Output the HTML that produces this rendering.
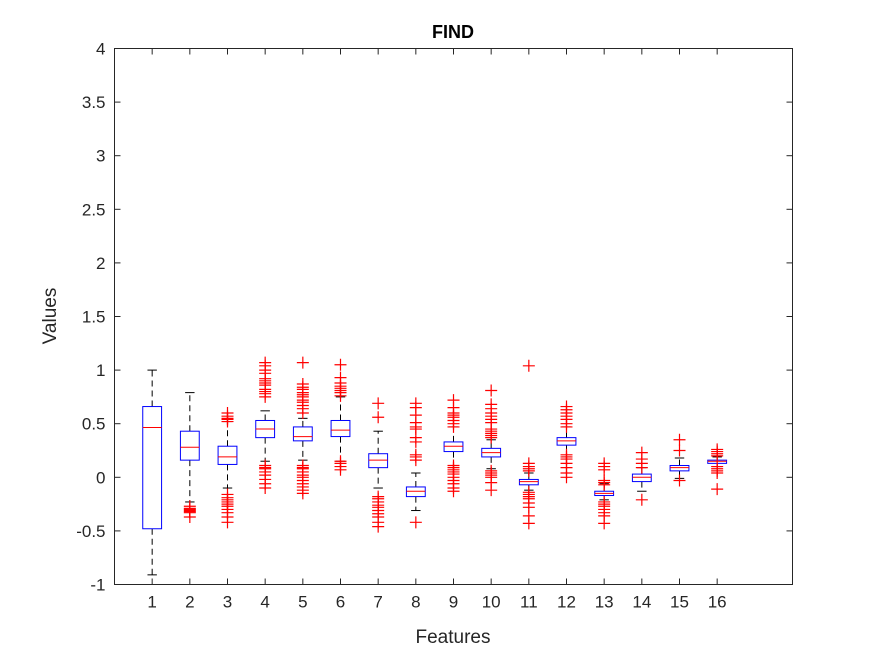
<!DOCTYPE html>
<html><head><meta charset="utf-8"><style>
body{margin:0;background:#fff;width:875px;height:656px;overflow:hidden}
svg text{font-family:"Liberation Sans",Arial,sans-serif;fill:#262626}
</style></head><body>
<svg id="chart" width="875" height="656" xmlns="http://www.w3.org/2000/svg">
<rect x="0" y="0" width="875" height="656" fill="#fff"/>
<text x="453" y="38" text-anchor="middle" font-size="18" font-weight="bold" style="fill:#000">FIND</text>
<text transform="translate(56,316) rotate(-90)" text-anchor="middle" font-size="19">Values</text>
<text x="453" y="643" text-anchor="middle" font-size="19">Features</text>
<g id="plot"></g>
</svg>
<script>
const categories=["1","2","3","4","5","6","7","8","9","10","11","12","13","14","15","16"];
const q1=[-0.48,0.16,0.12,0.37,0.34,0.38,0.09,-0.18,0.24,0.19,-0.07,0.30,-0.17,-0.04,0.06,0.13];
const medians=[0.465,0.28,0.19,0.45,0.38,0.44,0.16,-0.13,0.29,0.23,-0.04,0.34,-0.15,0.0,0.09,0.15];
const q3=[0.66,0.43,0.29,0.53,0.47,0.53,0.22,-0.09,0.33,0.27,-0.02,0.37,-0.13,0.03,0.11,0.16];
const whiskerHigh=[1.0,0.79,0.52,0.62,0.55,0.75,0.43,0.04,0.47,0.35,0.04,0.47,-0.06,0.09,0.18,0.19];
const whiskerLow=[-0.91,-0.23,-0.10,0.15,0.16,0.15,-0.10,-0.31,0.11,0.08,-0.12,0.19,-0.21,-0.13,-0.01,0.10];
const outliers=[
 [],
 [-0.27,-0.29,-0.30,-0.31,-0.32,-0.33,-0.37],
 [0.52,0.54,0.55,0.57,0.60,-0.16,-0.19,-0.21,-0.23,-0.25,-0.27,-0.30,-0.33,-0.37,-0.42],
 [1.07,1.04,1.00,0.97,0.92,0.90,0.88,0.86,0.82,0.80,0.78,0.75,0.11,0.09,0.08,0.05,0.02,-0.02,-0.06,-0.10],
 [1.07,0.87,0.84,0.82,0.79,0.77,0.75,0.72,0.70,0.67,0.64,0.60,0.11,0.09,0.08,0.05,0.02,0.00,-0.03,-0.06,-0.09,-0.12,-0.15],
 [1.05,0.93,0.88,0.85,0.83,0.81,0.79,0.76,0.15,0.13,0.10,0.07],
 [0.69,0.56,-0.18,-0.20,-0.23,-0.26,-0.28,-0.31,-0.34,-0.37,-0.42,-0.46],
 [0.69,0.65,0.58,0.51,0.47,0.45,0.37,0.33,0.21,0.19,0.16,-0.42],
 [0.72,0.65,0.60,0.58,0.56,0.53,0.50,0.47,0.11,0.09,0.07,0.05,0.03,0.00,-0.03,-0.06,-0.10,-0.13],
 [0.81,0.68,0.64,0.60,0.57,0.54,0.51,0.45,0.43,0.41,0.39,0.37,0.06,0.04,0.02,0.00,-0.05,-0.12],
 [1.04,0.13,0.10,0.08,0.06,-0.14,-0.16,-0.18,-0.20,-0.24,-0.28,-0.36,-0.43],
 [0.66,0.63,0.60,0.57,0.54,0.50,0.47,0.21,0.19,0.17,0.13,0.09,0.04,0.00],
 [0.13,0.10,0.07,-0.03,-0.05,-0.07,-0.23,-0.25,-0.27,-0.30,-0.33,-0.36,-0.43],
 [0.23,0.17,0.13,0.09,-0.21],
 [0.35,0.25,-0.03],
 [0.26,0.24,0.22,0.20,0.10,0.08,0.06,0.04,-0.11]
];
const yTicks=[-1,-0.5,0,0.5,1,1.5,2,2.5,3,3.5,4];
const yTickLabels=["-1","-0.5","0","0.5","1","1.5","2","2.5","3","3.5","4"];

const L=114.5,R=792.5,T=48.5,B=584.5;
const xMin=0,xMax=18,yMin=-1,yMax=4;
const xs=v=>L+(v-xMin)/(xMax-xMin)*(R-L);
const ys=v=>B-(v-yMin)/(yMax-yMin)*(B-T);
const NS="http://www.w3.org/2000/svg";
const g=document.getElementById('plot');
function mk(tag,attrs,parent){const e=document.createElementNS(NS,tag);for(const k in attrs)e.setAttribute(k,attrs[k]);(parent||g).appendChild(e);return e;}

const axes=mk('rect',{x:L,y:T,width:R-L,height:B-T,fill:'#fff',stroke:'#262626','stroke-width':1});



yTicks.forEach((v,i)=>{
 const y=ys(v);
 mk('line',{x1:L,x2:L+6,y1:y,y2:y,stroke:'#262626'});
 mk('line',{x1:R,x2:R-6,y1:y,y2:y,stroke:'#262626'});
 const t=mk('text',{x:L-9,y:y+6,'text-anchor':'end','font-size':17});
 t.textContent=yTickLabels[i];
 
 
});
categories.forEach((c,i)=>{
 const x=xs(i+1);
 mk('line',{x1:x,x2:x,y1:B,y2:B-6,stroke:'#262626'});
 mk('line',{x1:x,x2:x,y1:T,y2:T+6,stroke:'#262626'});
 const t=mk('text',{x:x,y:B+23,'text-anchor':'middle','font-size':17});
 t.textContent=c;
 
 
});
const hw=0.25*(xs(1)-xs(0)), cw=0.125*(xs(1)-xs(0));
categories.forEach((c,i)=>{
 const x=xs(i+1);
 const grp=mk('g',{});
 
 
 mk('line',{x1:x,x2:x,y1:ys(q3[i]),y2:ys(whiskerHigh[i]),stroke:'#000','stroke-dasharray':'6,4'},grp);
 mk('line',{x1:x,x2:x,y1:ys(q1[i]),y2:ys(whiskerLow[i]),stroke:'#000','stroke-dasharray':'6,4'},grp);
 mk('line',{x1:x-cw,x2:x+cw,y1:ys(whiskerHigh[i]),y2:ys(whiskerHigh[i]),stroke:'#000'},grp);
 mk('line',{x1:x-cw,x2:x+cw,y1:ys(whiskerLow[i]),y2:ys(whiskerLow[i]),stroke:'#000'},grp);
 mk('rect',{x:x-hw,y:ys(q3[i]),width:2*hw,height:ys(q1[i])-ys(q3[i]),fill:'none',stroke:'#0000ff'},grp);
 mk('line',{x1:x-hw,x2:x+hw,y1:ys(medians[i]),y2:ys(medians[i]),stroke:'#ff0000'},grp);
 outliers[i].forEach(v=>{
  const y=ys(v);
  mk('path',{d:`M${x-6},${y}H${x+6}M${x},${y-6}V${y+6}`,stroke:'#ff0000','stroke-width':1.2},grp);
 });
});
</script>
</body></html>
